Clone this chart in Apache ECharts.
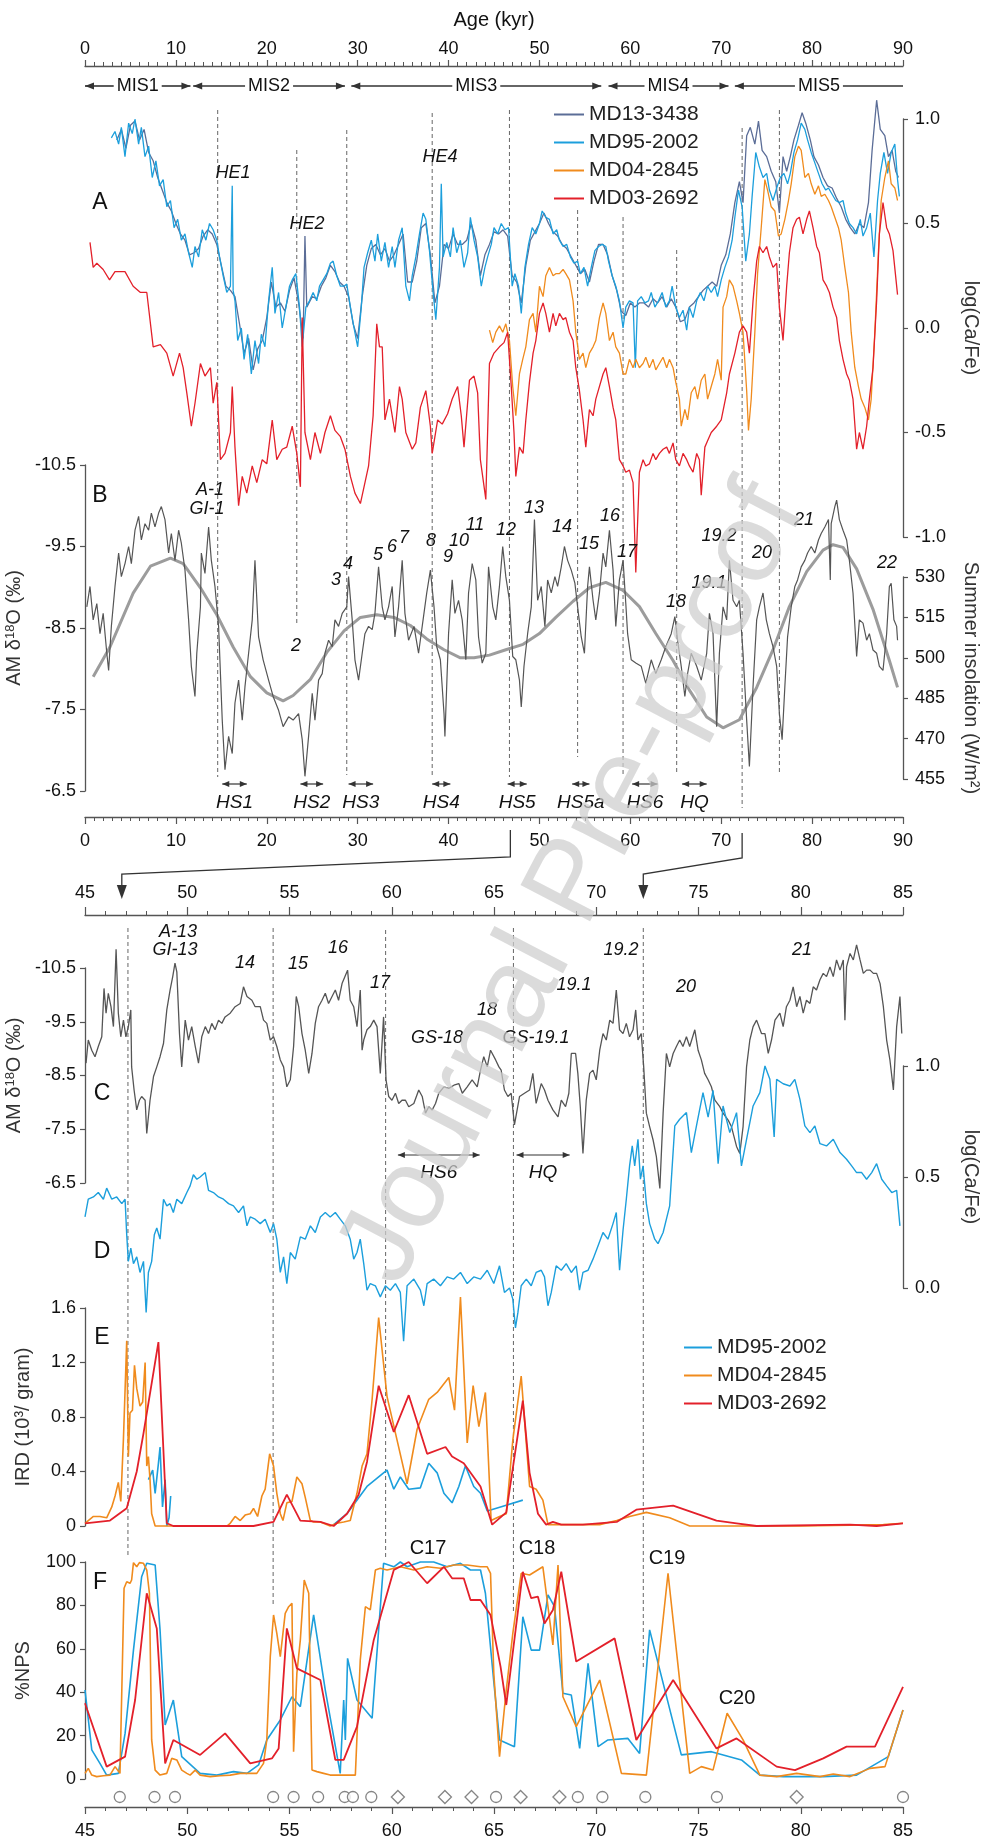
<!DOCTYPE html>
<html>
<head>
<meta charset="utf-8">
<title>Ca/Fe, AM d18O, IRD and %NPS, 0-90 kyr</title>
<script src="https://cdn.jsdelivr.net/npm/echarts@6.0.0/dist/echarts.min.js"></script>
<style>
  html, body { margin: 0; padding: 0; background: #fff; }
  #chart { width: 989px; height: 1841px; }
</style>
</head>
<body>
<div id="chart"></div>
<script>
// ---------------- data (age in kyr, value) ----------------
// panel A: log(Ca/Fe)
const md13A = [
  [3.5,0.9],[4,0.95],[4.5,0.86],[5,0.97],[5.5,0.99],[6,0.9],[6.5,0.95],[7,0.84],[7.5,0.8],[8,0.72],
  [8.5,0.66],[9,0.6],[9.5,0.56],[10,0.5],[10.5,0.45],[11,0.42],[11.5,0.35],[12,0.36],[12.5,0.38],[13,0.44],
  [13.5,0.47],[14,0.45],[14.5,0.4],[15,0.3],[15.5,0.2],[16,0.18],[16.5,0.15],[17,0.02],[17.5,-0.12],[18,-0.05],
  [18.5,-0.2],[19,-0.1],[19.5,-0.06],[20,0.05],[20.5,0.22],[21,0.1],[21.5,0.12],[22,0.08],[22.5,0.18],[23,0.24],
  [23.5,0.12],[24,-0.05],[24.2,0.44],[24.4,0.1],[25,0.15],[25.5,0.14],[26,0.2],[26.5,0.24],[27,0.3],[27.5,0.27],
  [28,0.22],[28.5,0.2],[29,0.15],[29.5,0.02],[30,-0.05],[30.5,0.15],[31,0.3],[31.5,0.38],[32,0.4],[32.5,0.35],
  [33,0.38],[33.5,0.32],[34,0.35],[34.5,0.4],[35,0.45],[35.5,0.22],[36,0.22],[36.5,0.32],[37,0.48],[37.5,0.5],
  [38,0.35],[38.5,0.12],[39,0.2],[39.5,0.4],[40,0.38],[40.5,0.45],[41,0.4],[41.5,0.4],[42,0.42],[42.5,0.5],
  [43,0.42],[43.5,0.25],[44,0.35],[44.5,0.4],[45,0.46],[45.5,0.45],[46,0.47],[46.5,0.44],[47,0.25],[47.5,0.22],
  [48,0.12],[48.5,0.3],[49,0.42],[49.5,0.46],[50,0.5],[50.5,0.55],[51,0.5],[51.5,0.46],[52,0.44],[52.5,0.4],
  [53,0.38],[53.5,0.34],[54,0.3],[54.5,0.26],[55,0.28],[55.5,0.22],[56,0.32],[56.5,0.4],[57,0.4],[57.5,0.35],
  [58,0.25],[58.5,0.18],[59,0.08],[59.5,0.06],[60,0.12],[60.5,0.1],[61,0.12],[61.5,0.12],[62,0.1],[62.5,0.14],
  [63,0.12],[63.5,0.15],[64,0.1],[64.5,0.14],[65,0.1],[65.5,0.03],[66,0.04],[66.5,0.1],[67,0.12],[67.5,0.15],
  [68,0.18],[68.5,0.2],[69,0.22],[69.5,0.2],[70,0.3],[70.5,0.35],[71,0.45],[71.5,0.6],[72,0.7],[72.4,0.6],
  [72.8,0.92],[73.2,0.96],[73.7,0.88],[74.1,0.99],[74.5,0.85],[75,0.82],[75.5,0.75],[76,0.7],[76.4,0.55],[76.8,0.82],
  [77.2,0.75],[77.6,0.82],[78,0.9],[78.5,0.97],[78.9,1.03],[79.3,0.98],[79.8,0.9],[80.2,0.82],[80.7,0.78],[81.2,0.72],
  [81.7,0.68],[82.2,0.67],[82.7,0.62],[83.2,0.58],[83.7,0.52],[84.2,0.48],[84.7,0.45],[85.2,0.5],[85.7,0.48],[86.2,0.6],
  [86.6,0.85],[87.1,1.09],[87.5,0.95],[88,0.92],[88.4,0.82],[88.8,0.85],[89.2,0.75],[89.5,0.72]
];
const md95A = [
  [2.9,0.91],[3.3,0.94],[3.7,0.88],[4.0,0.96],[4.4,0.82],[4.8,0.98],[5.2,0.93],[5.5,1.0],[5.9,0.88],[6.2,0.96],
  [6.6,0.82],[7.0,0.87],[7.4,0.72],[7.8,0.80],[8.2,0.68],[8.6,0.71],[9.0,0.58],[9.4,0.61],[9.8,0.48],[10.2,0.52],
  [10.6,0.42],[11.0,0.45],[11.4,0.36],[11.8,0.29],[12.1,0.39],[12.5,0.34],[12.9,0.47],[13.3,0.42],[13.7,0.50],[14.1,0.47],
  [14.5,0.42],[14.8,0.34],[15.2,0.25],[15.6,0.17],[16.0,0.20],[16.2,0.68],[16.3,0.18],[16.5,0.13],[16.8,-0.06],[17.2,0.0],
  [17.5,-0.15],[17.9,-0.03],[18.3,-0.22],[18.7,-0.06],[19.1,-0.17],[19.4,-0.03],[19.8,-0.09],[20.2,0.13],[20.6,0.29],[20.9,0.07],
  [21.3,0.17],[21.7,0.0],[22.1,0.10],[22.5,0.20],[22.8,0.23],[23.2,0.26],[23.6,0.10],[23.9,-0.09],[24.3,0.10],[24.7,0.13],
  [25.1,0.17],[25.5,0.13],[25.8,0.20],[26.2,0.23],[26.6,0.26],[27.0,0.31],[27.3,0.32],[27.7,0.25],[28.1,0.20],[28.5,0.20],
  [28.8,0.21],[29.2,0.10],[29.6,0.0],[30.0,-0.09],[30.4,0.10],[30.7,0.29],[31.1,0.36],[31.5,0.42],[31.9,0.32],[32.2,0.45],
  [32.6,0.32],[33.0,0.41],[33.4,0.29],[33.8,0.39],[34.1,0.29],[34.5,0.42],[34.9,0.48],[35.3,0.20],[35.7,0.13],[36.0,0.25],
  [36.4,0.34],[36.8,0.45],[37.2,0.55],[37.5,0.52],[37.9,0.37],[38.3,0.17],[38.6,0.04],[39.0,0.29],[39.2,0.69],[39.4,0.34],
  [39.8,0.41],[40.2,0.34],[40.5,0.48],[40.9,0.36],[41.3,0.42],[41.7,0.29],[42.1,0.36],[42.4,0.53],[42.8,0.42],[43.2,0.34],
  [43.6,0.20],[44.0,0.29],[44.3,0.34],[44.7,0.40],[45.0,0.48],[45.4,0.45],[45.8,0.50],[46.2,0.47],[46.6,0.48],[47.0,0.20],
  [47.3,0.26],[47.7,0.20],[48.0,0.07],[48.4,0.29],[48.8,0.40],[49.2,0.48],[49.6,0.45],[50.0,0.50],[50.3,0.56],[50.7,0.53],
  [51.1,0.52],[51.5,0.45],[51.9,0.47],[52.2,0.42],[52.6,0.39],[53.0,0.40],[53.4,0.34],[53.8,0.31],[54.2,0.32],[54.5,0.26],
  [54.9,0.29],[55.3,0.20],[55.7,0.29],[56.1,0.37],[56.5,0.39],[56.9,0.40],[57.3,0.39],[57.6,0.32],[58.0,0.25],[58.4,0.20],
  [58.8,0.13],[59.2,0.0],[59.5,0.10],[59.9,0.13],[60.3,0.12],[60.55,-0.19],[60.8,0.13],[61.2,0.15],[61.6,0.12],[62.0,0.13],
  [62.3,0.17],[62.7,0.10],[63.1,0.13],[63.5,0.17],[63.9,0.10],[64.3,0.13],[64.6,0.20],[65.0,0.10],[65.4,0.05],[65.8,0.085],
  [66.2,-0.01],[66.5,0.10],[66.9,0.05],[67.3,0.13],[67.7,0.17],[68.1,0.13],[68.5,0.20],[68.9,0.17],[69.3,0.20],[69.6,0.15],
  [70.0,0.23],[70.4,0.29],[70.8,0.34],[71.2,0.42],[71.5,0.53],[71.9,0.66],[72.3,0.58],[72.7,0.32],[73.1,0.45],[73.4,0.63],
  [73.8,0.84],[74.2,0.77],[74.6,0.72],[75.0,0.74],[75.3,0.66],[75.7,0.61],[76.1,0.67],[76.5,0.72],[76.9,0.74],[77.3,0.69],
  [77.6,0.74],[78.0,0.84],[78.4,0.90],[78.8,0.98],[79.2,0.95],[79.5,0.90],[79.9,0.84],[80.3,0.79],[80.7,0.74],[81.1,0.69],
  [81.5,0.66],[81.8,0.67],[82.2,0.64],[82.6,0.61],[83.0,0.60],[83.4,0.61],[83.7,0.55],[84.1,0.50],[84.5,0.48],[84.9,0.45],
  [85.3,0.52],[85.6,0.44],[86.0,0.48],[86.4,0.55],[86.8,0.34],[87.2,0.61],[87.5,0.74],[87.9,0.84],[88.3,0.74],[88.7,0.84],
  [89.1,0.88],[89.4,0.71],[89.6,0.63]
];
const md04A = [
  [44.5,-0.01],[44.86,-0.07],[45.2,-0.02],[45.6,0.01],[45.96,-0.02],[46.3,0.02],[46.7,-0.06],[47.06,-0.28],[47.4,-0.42],[47.8,-0.22],
  [48.16,-0.15],[48.5,-0.09],[48.9,0.04],[49.3,0.07],[49.6,-0.02],[50.0,0.20],[50.4,0.15],[50.7,0.25],[51.1,0.29],[51.5,0.25],
  [51.8,0.26],[52.2,0.26],[52.6,0.28],[52.9,0.26],[53.3,0.23],[53.7,0.13],[54.0,-0.02],[54.4,-0.15],[54.8,-0.12],[55.1,-0.19],
  [55.5,-0.12],[55.9,-0.09],[56.2,-0.06],[56.6,0.05],[57.0,0.12],[57.3,0.07],[57.7,-0.06],[58.1,-0.02],[58.4,-0.09],[58.8,-0.12],
  [59.2,-0.22],[59.5,-0.22],[59.9,-0.15],[60.3,-0.19],[60.6,-0.15],[61.0,-0.19],[61.4,-0.17],[61.7,-0.14],[62.1,-0.19],[62.5,-0.15],
  [62.8,-0.20],[63.2,-0.17],[63.6,-0.14],[64.0,-0.19],[64.3,-0.15],[64.7,-0.19],[65.0,-0.26],[65.4,-0.34],[65.6,-0.47],[66.0,-0.39],
  [66.3,-0.44],[66.7,-0.31],[67.1,-0.28],[67.4,-0.34],[67.8,-0.25],[68.2,-0.22],[68.5,-0.34],[68.9,-0.28],[69.3,-0.22],[69.6,-0.15],
  [70.0,-0.25],[70.2,0.10],[70.6,0.15],[70.9,0.23],[71.3,0.20],[71.7,0.13],[72.0,0.07],[72.4,-0.02],[72.8,-0.30],[73.0,-0.49],
  [73.3,-0.34],[73.7,-0.02],[74.0,0.26],[74.4,0.48],[74.8,0.71],[75.1,0.66],[75.5,0.58],[75.9,0.56],[76.3,0.44],[76.6,0.45],
  [77.0,0.52],[77.4,0.61],[77.7,0.69],[78.1,0.82],[78.5,0.87],[78.8,0.85],[79.2,0.72],[79.6,0.74],[79.9,0.69],[80.3,0.64],
  [80.7,0.68],[81.0,0.63],[81.4,0.64],[81.8,0.61],[82.1,0.58],[82.5,0.53],[82.9,0.48],[83.2,0.42],[83.6,0.29],[84.0,0.17],
  [84.3,-0.02],[84.7,-0.19],[85.1,-0.28],[85.4,-0.34],[85.8,-0.38],[86.2,-0.44],[86.5,-0.34],[86.9,-0.02],[87.3,0.37],[87.6,0.61],
  [88.0,0.72],[88.4,0.80],[88.7,0.69],[89.1,0.67],[89.4,0.61]
];
const md03A = [
  [0.55,0.41],[0.9,0.29],[1.3,0.31],[2.0,0.28],[2.7,0.23],[3.3,0.27],[4.4,0.27],[5.3,0.20],[6.1,0.17],[6.8,0.17],
  [7.5,-0.09],[8.3,-0.08],[9.0,-0.12],[9.7,-0.23],[10.4,-0.12],[10.8,-0.19],[11.2,-0.31],[11.7,-0.47],[12.1,-0.36],[12.7,-0.17],
  [13.2,-0.23],[13.8,-0.19],[14.1,-0.36],[14.5,-0.26],[14.9,-0.63],[15.4,-0.60],[16.0,-0.50],[16.2,-0.28],[16.5,-0.57],[16.9,-0.85],
  [17.3,-0.71],[17.8,-0.79],[18.4,-0.66],[18.9,-0.74],[19.5,-0.63],[20.0,-0.65],[20.6,-0.44],[21.1,-0.63],[21.7,-0.58],[22.2,-0.57],
  [22.8,-0.47],[23.3,-0.60],[23.7,-0.76],[23.9,0.05],[24.2,-0.50],[24.8,-0.63],[25.3,-0.50],[25.9,-0.60],[26.4,-0.50],[27.0,-0.42],
  [27.5,-0.49],[28.1,-0.52],[28.6,-0.58],[29.2,-0.71],[29.7,-0.79],[30.3,-0.84],[30.7,-0.76],[31.2,-0.66],[31.7,-0.42],[32.1,0.02],
  [32.4,-0.09],[32.7,-0.09],[33.0,-0.44],[33.5,-0.34],[34.1,-0.50],[34.6,-0.28],[34.9,-0.34],[35.3,-0.50],[36.0,-0.58],[36.4,-0.55],
  [36.9,-0.38],[37.5,-0.30],[38.0,-0.47],[38.2,-0.60],[38.8,-0.44],[39.3,-0.46],[39.9,-0.41],[40.4,-0.34],[41.0,-0.28],[41.4,-0.42],
  [41.7,-0.57],[42.3,-0.25],[42.8,-0.23],[43.2,-0.31],[43.5,-0.63],[44.1,-0.82],[44.5,-0.17],[45.0,-0.12],[45.6,-0.09],[46.1,-0.07],
  [46.5,-0.02],[46.9,-0.28],[47.2,-0.50],[47.4,-0.71],[47.8,-0.57],[48.2,-0.60],[48.5,-0.44],[48.9,-0.26],[49.3,-0.12],[49.6,-0.06],
  [50.0,0.07],[50.4,0.12],[50.7,0.07],[51.1,-0.02],[51.5,0.07],[51.8,0.01],[52.2,0.07],[52.6,0.04],[52.9,0.05],[53.3,-0.02],
  [53.7,-0.06],[54.0,-0.19],[54.4,-0.30],[54.8,-0.44],[55.1,-0.57],[55.5,-0.39],[55.9,-0.42],[56.2,-0.34],[57.0,-0.22],[57.3,-0.19],
  [57.7,-0.28],[58.1,-0.38],[58.4,-0.44],[58.8,-0.63],[59.2,-0.66],[59.5,-0.69],[59.9,-0.68],[60.3,-0.74],[60.6,-1.17],[61.0,-0.69],
  [61.4,-0.63],[61.7,-0.66],[62.1,-0.65],[62.5,-0.60],[62.8,-0.63],[63.2,-0.60],[63.6,-0.58],[64.0,-0.57],[64.3,-0.60],[64.7,-0.55],
  [65.0,-0.63],[65.4,-0.66],[65.8,-0.60],[66.2,-0.63],[66.5,-0.66],[66.9,-0.69],[67.3,-0.60],[67.6,-0.63],[67.8,-0.80],[68.2,-0.57],
  [68.5,-0.54],[68.9,-0.50],[69.5,-0.47],[70.0,-0.44],[70.6,-0.31],[70.9,-0.22],[71.5,-0.12],[72.0,-0.02],[72.4,0.01],[72.8,-0.02],
  [73.1,-0.12],[73.5,0.13],[73.9,0.32],[74.2,0.39],[74.6,0.36],[75.0,0.39],[75.3,0.34],[75.7,0.29],[76.1,0.31],[76.4,0.10],
  [76.8,-0.06],[77.2,0.20],[77.5,0.36],[77.9,0.48],[78.3,0.52],[78.6,0.53],[79.0,0.45],[79.4,0.52],[79.7,0.56],[80.1,0.48],
  [80.5,0.39],[80.8,0.36],[81.2,0.23],[81.6,0.20],[81.9,0.17],[82.3,0.10],[82.7,0.05],[83.0,-0.06],[83.4,-0.15],[83.8,-0.22],
  [84.1,-0.25],[84.5,-0.34],[84.9,-0.58],[85.2,-0.50],[85.6,-0.58],[86.0,-0.47],[86.3,-0.34],[86.7,-0.19],[87.1,0.13],[87.4,0.45],
  [87.8,0.60],[88.2,0.48],[88.5,0.45],[88.9,0.37],[89.4,0.16]
];
// panel B: AM d18O (permil) and summer insolation (W/m2)
const amB = [
  [0.2,-8.76],[0.55,-9.01],[0.9,-8.60],[1.3,-8.80],[1.65,-8.43],[2.0,-8.68],[2.4,-8.19],[2.6,-7.98],[2.9,-8.52],[3.3,-9.01],
  [3.7,-9.42],[4.0,-9.13],[4.4,-9.29],[4.8,-9.50],[5.1,-9.29],[5.5,-9.70],[5.9,-9.87],[6.2,-9.58],[6.6,-9.78],[7.0,-9.70],
  [7.3,-9.91],[7.7,-9.74],[8.1,-9.91],[8.4,-9.99],[8.8,-9.83],[9.2,-9.42],[9.5,-9.66],[9.9,-9.33],[10.3,-9.70],[10.6,-9.54],
  [11.0,-9.21],[11.4,-8.60],[11.7,-8.03],[12.1,-7.66],[12.3,-8.19],[12.7,-8.76],[12.8,-9.42],[13.2,-9.17],[13.6,-9.74],[13.9,-9.33],
  [14.3,-9.01],[14.7,-8.52],[15.1,-7.37],[15.4,-6.76],[15.8,-7.17],[16.2,-6.96],[16.5,-7.58],[16.9,-7.86],[17.3,-7.37],[17.6,-7.78],
  [18.0,-8.19],[18.4,-8.60],[18.7,-9.33],[19.1,-8.39],[19.6,-8.11],[20.2,-7.86],[20.7,-7.66],[21.3,-7.49],[21.8,-7.29],[22.4,-7.41],
  [22.9,-7.37],[23.5,-7.45],[23.9,-7.13],[24.2,-6.68],[24.6,-7.17],[25.0,-7.70],[25.3,-7.37],[25.7,-7.86],[26.1,-7.94],[26.4,-8.19],
  [26.8,-8.35],[27.2,-8.27],[27.5,-8.60],[27.9,-8.52],[28.3,-8.68],[28.8,-8.76],[29.0,-9.13],[29.4,-8.60],[29.7,-8.11],[30.1,-7.86],
  [30.5,-8.19],[30.8,-8.43],[31.2,-8.52],[31.6,-8.48],[31.9,-8.68],[32.3,-9.25],[32.7,-8.76],[33.0,-8.60],[33.4,-8.76],[33.8,-9.01],
  [34.1,-8.39],[34.5,-8.76],[34.9,-9.33],[35.2,-8.68],[35.6,-8.35],[36.2,-8.52],[36.7,-8.19],[37.1,-8.52],[37.6,-8.93],[38.0,-9.21],
  [38.4,-8.76],[38.7,-8.27],[39.1,-8.11],[39.5,-7.45],[39.6,-7.17],[40.0,-8.43],[40.4,-9.09],[40.7,-8.68],[41.1,-8.84],[41.5,-8.60],
  [41.9,-8.11],[42.2,-8.93],[42.6,-9.29],[43.0,-9.09],[43.3,-8.39],[43.7,-8.07],[44.1,-8.19],[44.4,-9.25],[44.86,-8.76],[45.2,-8.60],
  [45.6,-9.01],[45.96,-9.50],[46.3,-9.13],[46.7,-8.84],[47.06,-8.15],[47.4,-8.11],[47.8,-7.86],[48.0,-7.53],[48.3,-8.03],[48.7,-8.43],
  [49.1,-8.76],[49.45,-9.83],[49.8,-8.84],[50.2,-9.01],[50.6,-8.52],[50.9,-9.09],[51.3,-8.93],[51.7,-9.13],[52.0,-9.01],[52.4,-9.25],
  [52.75,-9.50],[53.1,-9.33],[53.5,-9.21],[53.9,-9.05],[54.2,-8.76],[54.6,-8.39],[54.95,-8.19],[55.3,-9.01],[55.5,-9.25],[55.9,-8.84],
  [56.2,-8.60],[56.6,-8.93],[57.0,-9.42],[57.3,-9.25],[57.7,-9.70],[58.1,-9.21],[58.4,-8.52],[58.8,-9.09],[59.2,-9.33],[59.5,-8.80],
  [59.7,-8.43],[60.1,-8.11],[60.6,-8.07],[61.2,-8.03],[61.7,-7.82],[62.3,-8.11],[62.8,-7.94],[63.4,-8.11],[63.9,-8.27],[64.5,-8.43],
  [64.9,-8.64],[65.2,-8.35],[65.6,-8.03],[66.0,-7.66],[66.3,-7.94],[66.7,-8.19],[67.3,-8.03],[67.8,-7.86],[68.4,-8.19],[68.7,-8.68],
  [69.1,-8.43],[69.5,-7.29],[69.8,-8.19],[70.2,-8.76],[70.6,-8.60],[70.9,-9.33],[71.3,-8.84],[71.7,-8.76],[72.0,-8.84],[72.4,-8.19],
  [72.8,-7.37],[73.1,-6.80],[73.5,-7.78],[73.9,-8.60],[74.2,-8.76],[74.6,-8.93],[74.96,-8.60],[75.3,-8.43],[75.7,-8.27],[76.1,-8.03],
  [76.4,-7.45],[76.7,-7.13],[77.0,-7.78],[77.3,-8.39],[77.7,-8.76],[78.1,-9.01],[78.4,-9.09],[78.8,-9.25],[79.2,-9.33],[79.5,-9.42],
  [79.9,-9.50],[80.3,-9.42],[80.7,-9.58],[81.0,-9.66],[81.4,-9.74],[81.8,-9.83],[82.0,-9.09],[82.1,-9.78],[82.5,-9.99],[82.7,-10.07],
  [83.0,-9.83],[83.4,-9.70],[83.8,-9.58],[84.1,-9.33],[84.5,-8.93],[84.9,-8.15],[85.2,-8.60],[85.6,-8.56],[86.0,-8.35],[86.3,-8.43],
  [86.7,-8.23],[87.1,-8.19],[87.4,-8.03],[87.8,-7.98],[88.2,-8.43],[88.5,-9.01],[88.7,-9.05],[89.0,-8.60],[89.3,-8.52],[89.4,-8.35]
];
const insolation = [
  [0.9,493],[2.75,504],[5.3,524],[7.2,534],[9.4,537],[10.8,535],[12.7,526],[14.5,516],[16.3,504],[18.2,493],
  [20.0,487],[21.8,484],[22.9,486],[24.8,492],[26.6,502],[28.5,510],[30.3,515],[32.1,516],[34.0,515],[35.8,512],
  [37.6,507],[39.5,503],[41.3,500],[42.8,500],[44.5,501],[46.3,503],[48.2,505],[50.0,509],[51.8,515],[53.7,521],
  [55.5,526],[57.3,528],[59.2,525],[61.0,519],[62.8,509],[64.7,499],[66.5,488],[68.4,478],[70.2,474],[72.0,477],
  [73.9,489],[75.7,503],[77.5,519],[79.4,532],[81.2,540],[82.3,542],[83.4,541],[84.9,533],[86.7,518],[88.5,499],[89.4,489]
];
// panel C: AM d18O, 45-85 kyr
const amC = [
  [45.05,-8.73],[45.16,-9.16],[45.33,-8.97],[45.49,-8.85],[45.65,-9.04],[45.82,-9.22],[45.93,-10.12],[46.03,-9.66],[46.14,-10.03],[46.27,-9.78],
  [46.39,-9.41],[46.52,-10.85],[46.63,-9.66],[46.75,-9.22],[46.88,-9.53],[47.0,-9.22],[47.12,-9.41],[47.24,-9.72],[47.28,-8.66],[47.4,-8.23],
  [47.53,-7.86],[47.66,-8.04],[47.77,-8.11],[47.94,-8.04],[48.02,-7.42],[48.18,-8.04],[48.35,-8.48],[48.51,-8.66],[48.67,-8.85],[48.84,-9.10],
  [49.0,-9.72],[49.16,-10.09],[49.29,-10.34],[49.4,-10.59],[49.49,-10.43],[49.62,-9.28],[49.73,-8.66],[49.9,-9.53],[50.06,-9.16],[50.22,-9.41],
  [50.39,-9.04],[50.55,-8.73],[50.71,-9.22],[50.88,-9.41],[51.04,-9.28],[51.2,-9.47],[51.36,-9.35],[51.53,-9.53],[51.69,-9.47],[51.85,-9.59],
  [52.1,-9.66],[52.34,-9.78],[52.59,-9.84],[52.75,-10.15],[52.92,-9.97],[53.16,-9.90],[53.32,-9.78],[53.57,-9.78],[53.73,-9.53],[53.89,-9.47],
  [54.06,-9.16],[54.22,-9.22],[54.38,-9.04],[54.55,-8.79],[54.71,-8.66],[54.87,-8.29],[55.04,-8.42],[55.2,-9.04],[55.33,-9.97],[55.45,-9.78],
  [55.61,-9.28],[55.77,-8.97],[55.94,-8.54],[56.1,-8.91],[56.26,-9.47],[56.42,-9.78],[56.59,-9.90],[56.75,-10.03],[56.91,-9.84],[57.08,-9.97],
  [57.24,-10.09],[57.4,-9.90],[57.57,-10.21],[57.84,-10.46],[57.97,-9.90],[58.14,-9.78],[58.3,-9.41],[58.46,-10.09],[58.55,-8.97],[58.63,-9.16],
  [58.79,-9.35],[58.95,-9.41],[59.12,-9.53],[59.28,-9.41],[59.44,-8.54],[59.6,-9.59],[59.72,-8.42],[59.85,-8.11],[60.01,-8.04],[60.18,-8.17],
  [60.34,-7.98],[60.5,-8.04],[60.67,-8.04],[60.83,-7.92],[61.08,-7.98],[61.32,-8.23],[61.49,-8.11],[61.65,-7.80],[61.81,-7.92],[61.98,-7.86],
  [62.14,-7.98],[62.3,-8.17],[62.55,-8.29],[62.79,-8.26],[63.04,-8.32],[63.28,-8.35],[63.45,-8.17],[63.69,-8.29],[63.93,-8.42],[64.18,-8.29],
  [64.34,-8.60],[64.5,-8.85],[64.67,-8.66],[64.83,-8.97],[65.08,-8.79],[65.24,-8.66],[65.35,-8.60],[65.51,-8.23],[65.68,-8.11],[65.84,-8.17],
  [66.0,-7.58],[66.25,-8.11],[66.49,-8.17],[66.74,-8.23],[66.9,-8.54],[67.06,-7.98],[67.31,-8.35],[67.47,-8.23],[67.64,-8.04],[67.88,-7.86],
  [68.13,-7.73],[68.29,-8.04],[68.5,-7.92],[68.66,-8.17],[68.78,-8.91],[68.99,-8.91],[69.1,-8.54],[69.22,-7.92],[69.35,-7.05],[69.51,-8.04],
  [69.68,-8.54],[69.84,-8.60],[70.0,-8.42],[70.17,-8.97],[70.33,-9.28],[70.49,-9.16],[70.66,-9.53],[70.82,-9.47],[70.98,-10.09],[71.14,-9.35],
  [71.31,-9.28],[71.47,-9.47],[71.63,-9.22],[71.8,-9.35],[71.93,-9.72],[72.04,-9.16],[72.2,-9.28],[72.32,-8.66],[72.45,-7.80],[72.61,-7.55],
  [72.78,-7.30],[72.94,-6.99],[73.11,-6.40],[73.27,-7.80],[73.43,-8.91],[73.59,-8.66],[73.76,-8.91],[73.92,-9.04],[74.08,-9.16],[74.24,-9.04],
  [74.41,-9.22],[74.57,-9.04],[74.82,-9.35],[74.98,-8.97],[75.14,-8.79],[75.3,-8.54],[75.47,-8.42],[75.63,-8.29],[75.8,-8.04],[76.04,-7.92],
  [76.2,-7.80],[76.45,-7.67],[76.61,-7.55],[76.86,-7.18],[77.02,-7.05],[77.18,-7.55],[77.35,-8.66],[77.51,-9.16],[77.67,-9.41],[77.84,-9.53],
  [78.08,-9.28],[78.25,-9.28],[78.41,-8.91],[78.57,-9.16],[78.74,-9.53],[78.98,-9.66],[79.14,-9.41],[79.3,-9.78],[79.47,-9.90],[79.63,-10.15],
  [79.8,-9.78],[79.96,-9.97],[80.12,-9.66],[80.28,-9.90],[80.45,-9.84],[80.61,-10.15],[80.77,-10.09],[80.94,-10.28],[81.1,-10.40],[81.26,-10.34],
  [81.43,-10.52],[81.59,-10.34],[81.75,-10.65],[81.92,-10.46],[82.08,-10.65],[82.16,-9.53],[82.24,-10.52],[82.41,-10.77],[82.57,-10.65],[82.73,-10.93],
  [82.9,-10.65],[83.06,-10.40],[83.22,-10.46],[83.39,-10.46],[83.55,-10.40],[83.71,-10.40],[83.88,-10.21],[84.04,-9.78],[84.2,-9.16],[84.36,-8.79],
  [84.53,-8.23],[84.69,-9.41],[84.85,-9.97],[84.94,-9.28]
];
// panel D: MD95-2002 log(Ca/Fe), 45-85 kyr
const md95D = [
  [45.0,0.32],[45.16,0.40],[45.41,0.41],[45.65,0.43],[45.9,0.40],[46.06,0.45],[46.31,0.40],[46.55,0.41],[46.8,0.38],[46.96,0.40],
  [47.04,0.24],[47.12,0.12],[47.24,0.18],[47.37,0.11],[47.53,0.14],[47.69,0.07],[47.86,0.12],[47.99,-0.11],[48.1,0.07],[48.26,0.12],
  [48.39,0.24],[48.51,0.27],[48.67,0.22],[48.84,0.40],[49.0,0.37],[49.16,0.38],[49.32,0.34],[49.49,0.40],[49.73,0.38],[49.98,0.43],
  [50.14,0.46],[50.3,0.51],[50.47,0.49],[50.63,0.50],[50.88,0.52],[51.04,0.44],[51.28,0.43],[51.53,0.41],[51.77,0.40],[52.02,0.38],
  [52.26,0.37],[52.51,0.34],[52.75,0.37],[52.92,0.28],[53.08,0.32],[53.32,0.31],[53.57,0.29],[53.81,0.31],[54.06,0.25],[54.22,0.29],
  [54.38,0.22],[54.55,0.07],[54.71,0.14],[54.87,0.02],[55.04,0.16],[55.28,0.13],[55.53,0.23],[55.77,0.22],[56.02,0.28],[56.26,0.25],
  [56.51,0.32],[56.75,0.34],[56.99,0.32],[57.24,0.34],[57.48,0.31],[57.73,0.28],[57.97,0.22],[58.14,0.13],[58.3,0.16],[58.46,0.22],
  [58.63,0.11],[58.79,-0.01],[58.95,0.02],[59.2,0.01],[59.44,-0.04],[59.69,0.01],[59.93,-0.01],[60.18,0.02],[60.42,-0.02],[60.58,-0.24],
  [60.75,0.01],[61.08,0.04],[61.4,-0.01],[61.57,-0.08],[61.73,0.02],[62.05,0.04],[62.38,0.01],[62.71,0.05],[63.03,0.04],[63.36,0.07],
  [63.69,0.02],[64.01,0.05],[64.34,0.04],[64.67,0.08],[64.99,0.02],[65.27,0.10],[65.51,-0.02],[65.76,0.0],[65.92,-0.05],[66.05,-0.18],
  [66.17,-0.11],[66.33,0.01],[66.58,0.04],[66.82,0.01],[67.06,0.07],[67.31,0.08],[67.47,0.05],[67.64,-0.08],[67.8,-0.02],[68.04,0.10],
  [68.29,0.08],[68.53,0.11],[68.78,0.07],[69.02,0.10],[69.18,-0.01],[69.35,0.07],[69.6,0.08],[69.84,0.13],[70.09,0.19],[70.33,0.25],
  [70.57,0.22],[70.82,0.29],[70.98,0.34],[71.14,0.08],[71.31,0.26],[71.47,0.40],[71.63,0.55],[71.76,0.64],[71.88,0.55],[72.04,0.67],
  [72.16,0.49],[72.29,0.55],[72.45,0.38],[72.61,0.29],[72.86,0.22],[73.02,0.20],[73.27,0.25],[73.59,0.37],[73.84,0.73],[74.08,0.76],
  [74.41,0.79],[74.65,0.61],[74.9,0.73],[75.22,0.88],[75.47,0.77],[75.71,0.89],[75.96,0.56],[76.2,0.82],[76.53,0.70],[76.86,0.79],
  [77.1,0.55],[77.35,0.67],[77.67,0.82],[78.0,0.88],[78.25,1.0],[78.49,0.94],[78.7,0.68],[78.82,0.94],[79.14,0.92],[79.47,0.91],
  [79.71,0.94],[79.96,0.85],[80.2,0.73],[80.45,0.70],[80.69,0.73],[80.94,0.65],[81.26,0.64],[81.59,0.67],[81.92,0.61],[82.24,0.58],
  [82.49,0.55],[82.73,0.52],[82.98,0.52],[83.22,0.49],[83.47,0.52],[83.71,0.56],[83.96,0.49],[84.2,0.46],[84.45,0.43],[84.69,0.44],[84.85,0.28]
];
// panel E: IRD (10^3 grains per gram)
const irdMD95 = [
  [48.1,0.34],[48.31,0.41],[48.43,0.24],[48.59,0.46],[48.67,0.58],[48.79,0.14],[48.92,0.34],[49.0,0.0],[49.11,0.06],[49.19,0.22],
  [53,null],
  [57.16,0.01],[57.81,0.09],[58.79,0.29],[59.6,0.39],[59.77,0.41],[60.1,0.27],[60.42,0.36],[60.83,0.27],[61.4,0.28],[61.81,0.46],
  [62.22,0.39],[62.55,0.24],[62.95,0.17],[63.28,0.29],[63.6,0.44],[64.01,0.29],[64.34,0.24],[64.67,0.11],[65.32,0.14],[66.41,0.19]
];
const irdMD04 = [
  [45.0,0.02],[45.41,0.07],[45.73,0.07],[46.06,0.06],[46.31,0.14],[46.47,0.22],[46.63,0.32],[46.75,0.18],[46.88,0.64],[47.04,1.36],
  [47.12,0.51],[47.2,0.83],[47.32,0.85],[47.42,1.18],[47.53,1.01],[47.69,0.88],[47.82,0.91],[47.94,1.2],[48.02,0.44],[48.1,0.51],
  [48.18,0.34],[48.26,0.09],[48.43,0.0],[49.0,0.0],[50.5,0.0],[51.94,0.0],[52.1,0.02],[52.34,0.07],[52.59,0.04],[52.83,0.08],
  [53.08,0.09],[53.24,0.13],[53.44,0.07],[53.65,0.22],[53.81,0.27],[54.03,0.53],[54.22,0.44],[54.38,0.24],[54.55,0.09],[54.68,0.04],
  [54.87,0.17],[55.12,0.18],[55.36,0.36],[55.61,0.31],[55.77,0.21],[56.02,0.04],[56.18,0.03],[56.51,0.03],[56.99,0.0],[57.32,0.02],
  [57.65,0.03],[57.97,0.04],[58.3,0.24],[58.55,0.44],[58.79,0.53],[59.04,0.93],[59.36,1.53],[59.77,0.95],[60.26,0.63],[60.75,0.31],
  [61.24,0.71],[61.81,0.93],[62.22,0.98],[62.79,1.09],[63.07,0.85],[63.36,1.68],[63.69,0.61],[63.98,1.03],[64.26,0.73],[64.58,0.98],
  [64.86,0.04],[65.27,0.07],[65.6,0.09],[65.92,0.63],[66.33,1.1],[66.74,0.29],[67.06,0.27],[67.39,0.19],[67.64,0.01],[68.04,0.01],
  [70.17,0.01],[71.0,0.04],[71.63,0.07],[72.45,0.1],[73.59,0.06],[74.57,0.0],[80.0,0.0],[84.04,0.01],[85.0,0.02]
];
const irdMD03 = [
  [45.0,0.02],[46.22,0.04],[47.04,0.13],[47.53,0.4],[47.86,0.68],[48.59,1.35],[49.0,0.02],[49.32,0.0],[52.26,0.0],[53.24,0.0],
  [54.22,0.03],[54.87,0.23],[55.53,0.04],[56.51,0.03],[57.16,0.0],[57.81,0.09],[58.38,0.23],[58.79,0.47],[59.36,1.03],[60.1,0.69],
  [60.83,0.96],[61.73,0.53],[62.63,0.58],[62.95,0.51],[63.52,0.46],[64.34,0.29],[64.91,0.01],[65.6,0.1],[66.41,0.92],[66.74,0.39],
  [67.15,0.09],[67.55,0.01],[67.88,0.03],[68.29,0.01],[69.35,0.01],[71.0,0.03],[71.96,0.12],[73.76,0.15],[75.88,0.04],[76.86,0.02],
  [77.84,0.0],[82.41,0.01],[83.71,0.0],[85.0,0.02]
];
// panel F: %NPS
const npsMD95 = [
  [45.0,41],[45.33,13.4],[45.73,7.2],[46.06,1.8],[46.63,2.6],[46.96,21],[47.37,59.4],[47.77,93.2],[48.02,99.4],[48.43,98.6],
  [48.67,68.7],[48.92,24.9],[49.32,36.4],[49.73,10.3],[50.63,2.6],[51.45,1.8],[52.26,3.4],[52.92,2.6],[53.49,6.5],[53.89,18],
  [54.55,27.2],[55.12,37.9],[55.53,33.3],[56.18,75.6],[56.75,41],[57.48,2.6],[57.65,36.4],[57.73,18],[57.84,55.6],[58.3,36.4],
  [59.04,28],[59.6,99.4],[60.1,97.8],[60.42,100],[60.75,97.8],[61.4,100],[62.05,100],[62.71,97.8],[63.36,99.4],[63.85,96.3],
  [64.34,96.3],[64.58,85.6],[64.99,44.9],[65.27,18],[66.0,14.9],[66.41,74.8],[66.82,59.4],[67.23,59.4],[67.64,84.8],[67.96,79.4],
  [68.37,39.5],[68.78,38.7],[69.19,14.1],[69.6,53.3],[70.09,14.9],[70.57,18],[71.55,18.7],[72.12,11.8],[72.61,68.7],[74.16,11.1],
  [75.63,12.6],[77.1,8.8],[78.0,1.8],[79.14,1.1],[81.1,1.1],[82.73,1.8],[84.28,10.3],[85.0,31.8]
];
const npsMD04 = [
  [45.0,2.6],[45.16,4.9],[45.33,1.8],[45.57,1.1],[45.9,1.5],[46.22,1.8],[46.47,5.7],[46.71,2.6],[46.91,87.9],[47.04,90.9],
  [47.2,90.2],[47.28,91.7],[47.37,99.7],[47.53,97.8],[47.66,99.7],[47.86,99.4],[48.02,96.3],[48.15,85.6],[48.26,18],[48.43,4.1],
  [48.67,1.8],[49.0,2.6],[49.24,9.5],[49.49,8.8],[49.73,4.1],[49.98,2.6],[50.14,1.8],[50.39,4.1],[50.63,1.8],[51.12,1.1],
  [51.61,1.5],[52.1,1.8],[52.59,2.6],[53.08,2.6],[53.4,2.6],[53.73,7.2],[53.89,18],[54.06,56.4],[54.22,75.6],[54.38,67.1],
  [54.55,56.4],[54.79,76.3],[54.96,79.4],[55.12,81],[55.2,12.6],[55.36,48.7],[55.53,64.1],[55.72,91.7],[55.94,85.6],[56.1,4.1],
  [56.34,3.4],[56.67,2.6],[56.99,1.8],[57.32,1.8],[57.81,1.8],[58.22,1.8],[58.46,54.8],[58.71,79.4],[58.95,77.9],[59.2,96.3],
  [59.44,97.1],[59.77,96.3],[60.42,97.8],[61.08,96.3],[61.73,97.8],[62.38,97.1],[63.04,98.6],[63.69,98.6],[64.34,97.8],[64.67,97.8],
  [64.83,94.8],[64.99,48.7],[65.27,10.3],[65.6,41],[65.92,67.1],[66.33,94.8],[66.74,94],[67.39,97.8],[67.88,61.8],[68.13,98.6],
  [68.37,37.9],[69.02,24.1],[70.17,45.6],[71.23,2.6],[72.45,1.8],[73.51,94.8],[74.57,2.6],[75.14,5.7],[75.71,4.1],[76.4,30.3],
  [77.18,18],[78.0,1.8],[78.82,1.1],[79.8,2.6],[80.94,1.1],[81.59,2.3],[82.41,1.1],[83.39,4.9],[84.12,5.7],[85.0,31.8]
];
const npsMD03 = [
  [45.0,34.9],[46.06,5.7],[46.96,10.3],[47.45,36.4],[48.02,85.6],[48.51,69.4],[48.92,7.2],[49.32,18],[50.63,11.1],[51.85,21],
  [53.08,7.2],[54.14,9.5],[54.47,14.1],[54.87,69.4],[55.36,51],[56.51,45.6],[57.24,8.8],[57.65,8.8],[58.3,24.1],[59.12,64.1],
  [60.1,96.3],[60.83,100],[61.73,90.2],[62.55,97.8],[62.95,92.5],[63.52,92.5],[63.85,82.5],[64.34,82.5],[64.83,75.6],[65.32,51.8],
  [65.6,34.1],[66.41,95.5],[66.82,83.3],[67.15,84],[67.47,71.7],[67.88,77.9],[68.29,95.5],[69.02,54.1],[70.9,64.8],[71.96,18],
  [73.76,45.6],[75.88,14.1],[76.86,18.7],[78.82,5.7],[79.72,4.1],[81.1,9.5],[82.24,14.9],[83.63,14.9],[85.0,42.5]
];
// age-control points under panel F
const datingCircles = [46.7, 48.4, 49.4, 54.2, 55.2, 56.4, 57.7, 58.1, 59.0, 65.1, 69.1, 70.3, 72.4, 75.9, 85.0];
const datingDiamonds = [60.3, 62.6, 63.9, 66.3, 68.2, 79.8];

// tick label values
const d18Ticks = [-10.5, -9.5, -8.5, -7.5, -6.5];
const insoTicks = [455, 470, 485, 500, 515, 530];

// stratigraphic events (age ranges in kyr)
const misStages = [['MIS1', 0, 11.6, true], ['MIS2', 11.9, 28.6, true], ['MIS3', 29.3, 56.8, true], ['MIS4', 57.6, 70.8, true], ['MIS5', 71.5, 90, false]];
const hsTop = [['HS1', 15.1, 17.8], ['HS2', 23.7, 26.2], ['HS3', 29.0, 31.7], ['HS4', 38.2, 40.2], ['HS5', 46.5, 48.6], ['HS5a', 53.6, 55.5], ['HS6', 60.2, 63.0], ['HQ', 65.7, 68.4]];
const hsBottom = [['HS6', 60.3, 64.3], ['HQ', 66.1, 68.7]];
const eventAgesTop = [14.6, 23.3, 28.8, 38.2, 46.7, 54.2, 59.2, 65.1, 72.3, 76.4];
const eventAgesBottom = [47.1, 54.2, 59.7, 65.95, 72.3];

// ---------------- chart ----------------
const FONT = 'Arial, "Liberation Sans", Helvetica, sans-serif';
const AX = '#555';
const TXT = '#111';
const C13 = '#5b6d97', C95 = '#1c9fdc', C04 = '#f08b1d', C03 = '#e3202a', CAM = '#555555', CINS = '#9c9c9c';

const chart = echarts.init(document.getElementById('chart'), null, { renderer: 'canvas' });

function grid(top, height) {
  return { left: 85, right: 86, top: top, height: height, containLabel: false, outerBoundsMode: 'none' };
}
function hiddenX(gridIndex, min, max) {
  return { type: 'value', gridIndex: gridIndex, min: min, max: max, show: false, splitLine: { show: false }, axisLine: { onZero: false } };
}
function ageAxis(gridIndex, min, max, interval, minorSplit, position, offset, margin, tickLen) {
  return {
    type: 'value', gridIndex: gridIndex, min: min, max: max, interval: interval, position: position, offset: offset,
    splitLine: { show: false },
    axisLine: { show: true, onZero: false, lineStyle: { color: AX, width: 1.3 } },
    axisTick: { show: true, length: tickLen, lineStyle: { color: AX, width: 1.2 } },
    minorTick: { show: true, splitNumber: minorSplit, length: 4, lineStyle: { color: AX, width: 1 } },
    axisLabel: { margin: margin, fontSize: 18, color: TXT, fontFamily: FONT }
  };
}
function valAxis(gridIndex, position, min, max, name, nameGap, extra) {
  const ax = {
    type: 'value', gridIndex: gridIndex, position: position, min: min, max: max,
    name: name, nameLocation: 'middle', nameGap: nameGap, nameRotate: position === 'right' ? -90 : 90,
    nameTextStyle: { fontSize: 20, color: '#333', fontFamily: FONT },
    splitLine: { show: false },
    axisLine: { show: true, onZero: false, lineStyle: { color: AX, width: 1.3 } },
    axisTick: { show: true, length: 5, lineStyle: { color: AX, width: 1.2 } },
    axisLabel: { margin: 9, fontSize: 18, color: TXT, fontFamily: FONT }
  };
  return echarts.util.merge(ax, extra || {}, true);
}
function line(name, data, xi, yi, color, width, z) {
  return {
    name: name, type: 'line', data: data, xAxisIndex: xi, yAxisIndex: yi,
    showSymbol: false, symbol: 'none', clip: false, silent: true, z: z || 2,
    color: color, itemStyle: { color: color }, lineStyle: { color: color, width: width }
  };
}

const supRich = { s: { fontSize: 13, verticalAlign: 'top', color: '#333', fontFamily: FONT } };

const option = {
  animation: false,
  backgroundColor: '#fff',
  textStyle: { fontFamily: FONT },
  grid: [grid(119, 418), grid(465, 326), grid(577, 202), grid(968, 215), grid(1066, 222), grid(1308, 218), grid(1562, 217), grid(1787, 20)],
  xAxis: [
    ageAxis(0, 0, 90, 10, 10, 'top', 53, 8, 6),
    ageAxis(1, 0, 90, 10, 10, 'bottom', 26, 15, 7),
    hiddenX(2, 0, 90),
    ageAxis(3, 45, 85, 5, 5, 'top', 53, 13, 8),
    hiddenX(4, 45, 85),
    hiddenX(5, 45, 85),
    hiddenX(6, 45, 85),
    ageAxis(7, 45, 85, 5, 5, 'bottom', 0, 15, 7)
  ],
  yAxis: [
    valAxis(0, 'right', -1, 1, 'log(Ca/Fe)', 58, { interval: 0.5, axisLabel: { margin: 12, formatter: v => v.toFixed(1) } }),
    valAxis(1, 'left', -10.5, -6.5, 'AM δ{s|18}O (‰)', 50, {
      inverse: true, nameTextStyle: { rich: supRich },
      axisTick: { customValues: d18Ticks }, axisLabel: { customValues: d18Ticks, formatter: v => v.toFixed(1) }
    }),
    valAxis(2, 'right', 455, 530, 'Summer insolation (W/m²)', 58, {
      axisTick: { customValues: insoTicks }, axisLabel: { margin: 12, customValues: insoTicks }
    }),
    valAxis(3, 'left', -10.5, -6.5, 'AM δ{s|18}O (‰)', 50, {
      inverse: true, nameTextStyle: { rich: supRich },
      axisTick: { customValues: d18Ticks }, axisLabel: { customValues: d18Ticks, formatter: v => v.toFixed(1) }
    }),
    valAxis(4, 'right', 0, 1, 'log(Ca/Fe)', 58, { interval: 0.5, axisLabel: { margin: 12, formatter: v => v.toFixed(1) } }),
    valAxis(5, 'left', 0, 1.6, 'IRD (10³/ gram)', 52, { interval: 0.4, axisLabel: { formatter: v => (v === 0 ? '0' : v.toFixed(1)) } }),
    valAxis(6, 'left', 0, 100, '%NPS', 52, { interval: 20 }),
    { type: 'value', gridIndex: 7, min: 0, max: 1, show: false, splitLine: { show: false } }
  ],
  legend: [
    {
      data: ['MD13-3438', 'MD95-2002', 'MD04-2845', 'MD03-2692'], orient: 'vertical', left: 554, top: 104, padding: 0,
      icon: 'rect', itemWidth: 30, itemHeight: 2, itemGap: 7, selectedMode: false,
      textStyle: { fontSize: 21, lineHeight: 21, color: '#222', fontFamily: FONT }
    },
    {
      data: ['MD95-2002', 'MD04-2845', 'MD03-2692'], orient: 'vertical', left: 684, top: 1337, padding: 0,
      icon: 'rect', itemWidth: 28, itemHeight: 2, itemGap: 7, selectedMode: false,
      textStyle: { fontSize: 21, lineHeight: 21, color: '#222', fontFamily: FONT }
    }
  ],
  series: [
    line('MD13-3438', md13A, 0, 0, C13, 1.3),
    line('MD95-2002', md95A, 0, 0, C95, 1.3),
    line('MD04-2845', md04A, 0, 0, C04, 1.3),
    line('MD03-2692', md03A, 0, 0, C03, 1.3),
    line('Summer insolation', insolation, 2, 2, CINS, 3, 1),
    line('AM d18O', amB, 1, 1, CAM, 1.2),
    line('AM d18O (45-85 kyr)', amC, 3, 3, CAM, 1.3),
    line('MD95-2002', md95D, 4, 4, C95, 1.4),
    line('MD95-2002', irdMD95, 5, 5, C95, 1.6),
    line('MD04-2845', irdMD04, 5, 5, C04, 1.6),
    line('MD03-2692', irdMD03, 5, 5, C03, 1.8),
    line('MD95-2002', npsMD95, 6, 6, C95, 1.6),
    line('MD04-2845', npsMD04, 6, 6, C04, 1.6),
    line('MD03-2692', npsMD03, 6, 6, C03, 1.8),
    {
      name: 'dating (circle)', type: 'scatter', xAxisIndex: 7, yAxisIndex: 7, silent: true,
      data: datingCircles.map(a => [a, 0.5]), symbol: 'circle', symbolSize: 11,
      itemStyle: { color: '#fff', borderColor: '#666', borderWidth: 1.3 }
    },
    {
      name: 'dating (diamond)', type: 'scatter', xAxisIndex: 7, yAxisIndex: 7, silent: true,
      data: datingDiamonds.map(a => [a, 0.5]), symbol: 'diamond', symbolSize: 13,
      itemStyle: { color: '#fff', borderColor: '#666', borderWidth: 1.3 }
    }
  ]
};
chart.setOption(option);

// ---------------- annotations ----------------
const xTop = v => chart.convertToPixel({ xAxisIndex: 0 }, v);
const xLow = v => chart.convertToPixel({ xAxisIndex: 3 }, v);
const g = [];
const INK = '#333';

function txt(text, x, y, font, extra) {
  g.push(Object.assign({
    type: 'text', x: x, y: y, z: 50,
    style: { text: text, font: font, fill: '#111', textAlign: 'center', textVerticalAlign: 'middle' }
  }, extra || {}));
}
function seg(x1, y1, x2, y2, dash, color, width) {
  g.push({
    type: 'line', z: dash ? 0 : 40, shape: { x1: x1, y1: y1, x2: x2, y2: y2 },
    style: { stroke: color || INK, lineWidth: width || 1.2, lineDash: dash || null }
  });
}
function head(x, y, dir, len, half) {
  len = len || 8; half = half || 3.5;
  let pts;
  if (dir === 'l') pts = [[x, y], [x + len, y - half], [x + len, y + half]];
  else if (dir === 'r') pts = [[x, y], [x - len, y - half], [x - len, y + half]];
  else pts = [[x, y], [x - half, y - len], [x + half, y - len]];
  g.push({ type: 'polygon', z: 40, shape: { points: pts }, style: { fill: INK } });
}
function dblArrow(x1, x2, y) {
  seg(x1, y, x2, y, null, INK, 1.2);
  head(x1, y, 'l', 7, 3);
  head(x2, y, 'r', 7, 3);
}

// MIS bar
misStages.forEach(([label, a, b, rightHead]) => {
  const x1 = xTop(a), x2 = xTop(b), xm = (x1 + x2) / 2, y = 86, half = 24;
  seg(x1, y, xm - half, y, null, INK, 1.6);
  seg(xm + half, y, x2, y, null, INK, 1.6);
  head(x1, y, 'l', 9, 3.5);
  if (rightHead) head(x2, y, 'r', 9, 3.5);
  txt(label, xm, y, '18px ' + FONT);
});
txt('Age (kyr)', 494, 20, '20px ' + FONT);

// event lines, upper block
const topSpans = [[110, 777], [150, 623], [130, 775], [113, 777], [110, 777], [210, 757], [217, 775], [250, 775], [128, 808], [110, 773]];
eventAgesTop.forEach((a, i) => seg(xTop(a), topSpans[i][0], xTop(a), topSpans[i][1], [4, 3], '#666', 1));
// event lines, lower block
const lowSpans = [[928, 1557], [928, 1607], [930, 1560], [928, 1613], [928, 1667]];
eventAgesBottom.forEach((a, i) => seg(xLow(a), lowSpans[i][0], xLow(a), lowSpans[i][1], [4, 3], '#666', 1));

// Heinrich stadials
hsTop.forEach(([label, a, b]) => {
  const x1 = xTop(a), x2 = xTop(b);
  dblArrow(x1, x2, 784);
  txt(label, (x1 + x2) / 2, 803, 'italic 19px ' + FONT);
});
hsBottom.forEach(([label, a, b]) => {
  const x1 = xLow(a), x2 = xLow(b);
  dblArrow(x1, x2, 1155);
  txt(label, (x1 + x2) / 2, 1173, 'italic 19px ' + FONT);
});

// zoom connectors between the two age axes
[[46.8, 830, 857], [72.3, 833, 858]].forEach(([a, y0, y1]) => {
  const xt = xTop(a), xl = xLow(a);
  g.push({
    type: 'polyline', z: 40, shape: { points: [[xt, y0], [xt, y1], [xl, 874], [xl, 886]] },
    style: { stroke: INK, lineWidth: 1.3, fill: null }
  });
  head(xl, 899, 'd', 14, 5);
});

// panel letters
[['A', 100, 203], ['B', 100, 496], ['C', 102, 1094], ['D', 102, 1252], ['E', 102, 1338], ['F', 100, 1583]]
  .forEach(([t, x, y]) => txt(t, x, y, '23px ' + FONT));

// interstadial / event labels
const IT = 'italic 18px ' + FONT;
[['HE1', 233, 173], ['HE2', 307, 224], ['HE4', 440, 157], ['A-1', 210, 490], ['GI-1', 207, 509],
 ['2', 296, 646], ['3', 336, 580], ['4', 348, 564], ['5', 378, 555], ['6', 392, 547], ['7', 404, 538],
 ['8', 431, 541], ['9', 448, 557], ['10', 459, 541], ['11', 475, 525], ['12', 506, 530], ['13', 534, 508],
 ['14', 562, 527], ['15', 589, 544], ['16', 610, 516], ['17', 627, 552], ['18', 676, 602], ['19.1', 709, 583],
 ['19.2', 719, 536], ['20', 762, 553], ['21', 804, 520], ['22', 887, 563],
 ['A-13', 178, 932], ['GI-13', 175, 950], ['14', 245, 963], ['15', 298, 964], ['16', 338, 948], ['17', 380, 983],
 ['18', 487, 1010], ['GS-18', 437, 1038], ['GS-19.1', 536, 1038], ['19.1', 574, 985], ['19.2', 621, 950],
 ['20', 686, 987], ['21', 802, 950]
].forEach(([t, x, y]) => txt(t, x, y, IT));
[['C17', 428, 1548], ['C18', 537, 1548], ['C19', 667, 1558], ['C20', 737, 1698]]
  .forEach(([t, x, y]) => txt(t, x, y, '20px ' + FONT));

// watermark
g.push({
  type: 'text', x: 574, y: 884, rotation: 1.09, z: 100, silent: true,
  style: { text: 'Journal Pre-proof', font: '114px ' + FONT, fill: 'rgba(205,205,205,0.72)', textAlign: 'center', textVerticalAlign: 'middle' }
});

chart.setOption({ graphic: g });
</script>
</body>
</html>
